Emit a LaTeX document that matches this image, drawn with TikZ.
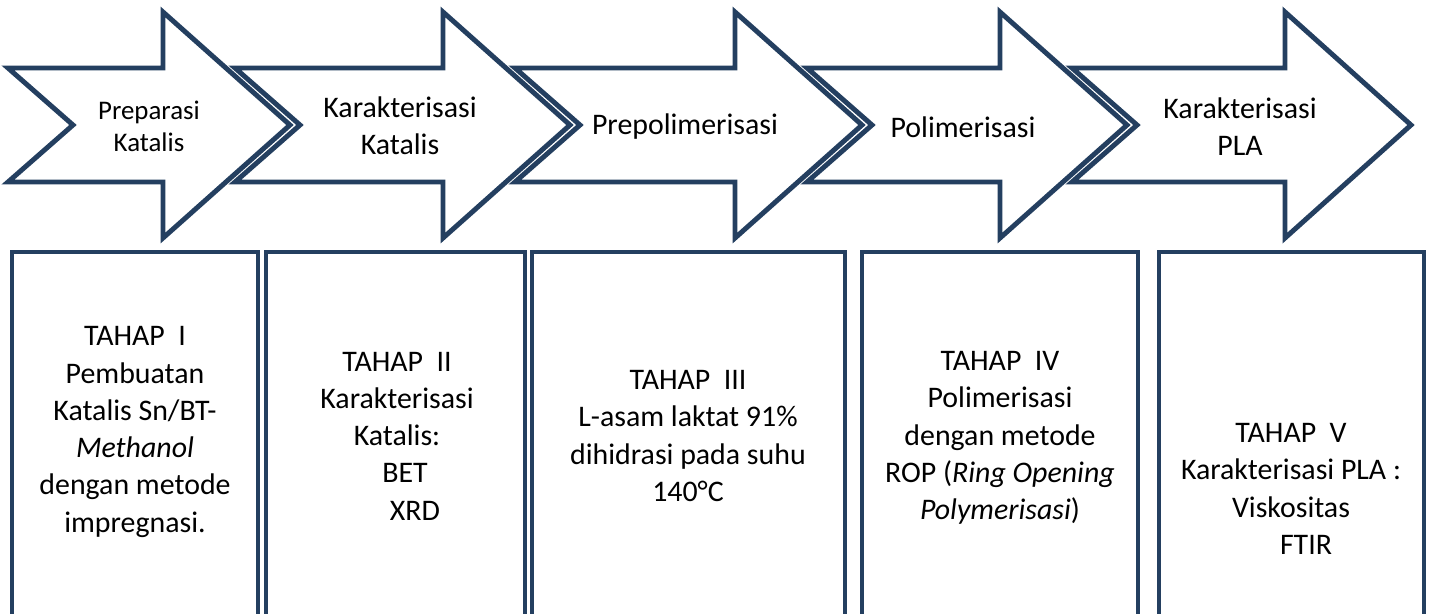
\documentclass[tikz,border=0pt]{standalone}
\usepackage{fontspec}
\setmainfont{Carlito}
\usetikzlibrary{positioning}
\definecolor{navy}{HTML}{243F60}
\tikzset{
  stage/.style   = {draw=navy, line width=2.8pt, fill=white, line join=miter},
  phase/.style   = {align=center, inner sep=0pt, font=\fontsize{17}{21}\selectfont},
  phase small/.style = {phase, font=\fontsize{15.3}{18.2}\selectfont},
  detail/.style  = {align=center, inner sep=0pt, font=\fontsize{17}{21.2}\selectfont}
}
\begin{document}
\begin{tikzpicture}[x=0.02cm, y=-0.02cm]
  \useasboundingbox (0,0) rectangle (1432,613);
  \clip (0,0) rectangle (1432,613);

  % the stage arrows: tail, notch, head base, tip
  \foreach \tail/\notch/\base/\tip in {8/73/163/290, 235/300/443/570,
      515/580/735/862, 807/872/1000/1127, 1072/1137/1285/1411}
    \draw[stage] (\tail,68) -- (\base,68) -- (\base,12) -- (\tip,125)
      -- (\base,238) -- (\base,182) -- (\tail,182) -- (\notch,125) -- cycle;

  % labels of the arrows
  \node[phase small] (prep) at (149,126) {Preparasi\\Katalis};
  \node[phase] (karkat) at (400,126) {Karakterisasi\\Katalis};
  \node[phase] (prepol) at (685,127) {Prepolimerisasi};
  \node[phase] (pol) at (963,127) {Polimerisasi};
  \node[phase] (karpla) at (1240,127) {Karakterisasi\\PLA};

  % the boxes below, open at the bottom
  \foreach \left/\right in {12/258, 266/525, 532/845, 862/1138, 1159/1424}
    \draw[stage] (\left,252) rectangle (\right,640);

  % text of each stage
  \node[detail] (tahap1) at (135,432) {TAHAP\ \ I\\Pembuatan\\Katalis Sn/BT-\\
    \textit{Methanol}\\dengan metode\\impregnasi.};
  \node[detail] (tahap2) at (397,436) {TAHAP\ \ II\\Karakterisasi\\Katalis:\\
    \hspace{0.32cm}BET\\\hspace{0.72cm}XRD};
  \node[detail] (tahap3) at (688,436) {TAHAP\ \ III\\L-asam laktat 91\%\\
    dihidrasi pada suhu\\140°C};
  \node[detail] (tahap4) at (1000,438) {TAHAP\ \ IV\\Polimerisasi\\dengan metode\\
    ROP (\textit{Ring Opening}\\\textit{Polymerisasi})};
  \node[detail] (tahap5) at (1291,489) {TAHAP\ \ V\\Karakterisasi PLA :\\
    Viskositas\\\hspace{0.6cm}FTIR};
\end{tikzpicture}
\end{document}
